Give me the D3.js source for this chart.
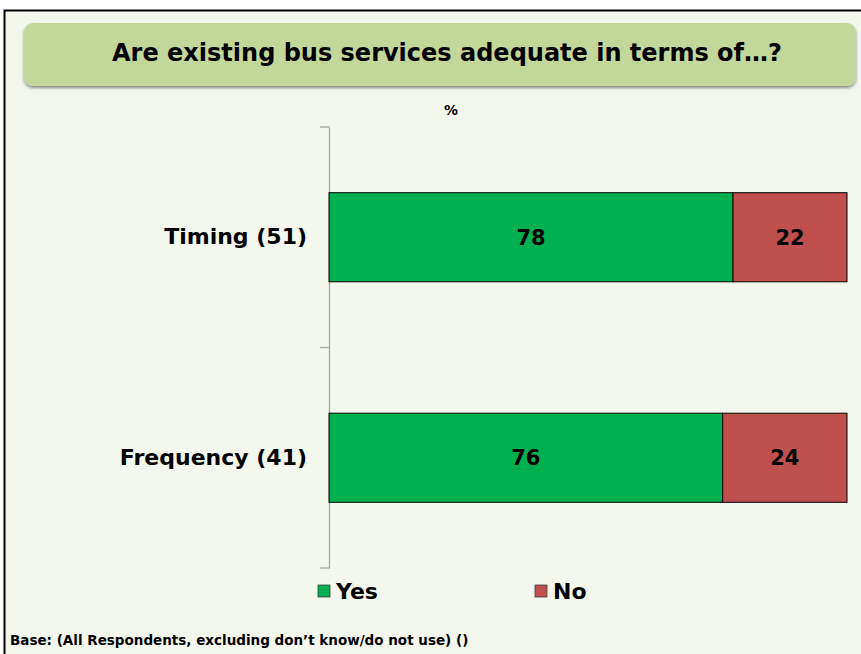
<!DOCTYPE html>
<html>
<head>
<meta charset="utf-8">
<script src="https://cdn.jsdelivr.net/npm/d3@7"></script>
<style>
  html, body { margin: 0; padding: 0; background: #fff; }
  svg { display: block; font-family: Verdana, "DejaVu Sans", sans-serif; }
</style>
</head>
<body>
<div id="chart"></div>
<script>
// chart data
var categories = ["Timing (51)", "Frequency (41)"];
var series = ["Yes", "No"];
var yesValues = [78, 76];
var noValues = [22, 24];
var colors = ["#00b050", "#c0504d"];

var W = 861, H = 654;
var svg = d3.select("#chart").append("svg")
    .attr("width", W)
    .attr("height", H);

// page background + frame
svg.append("rect")
    .attr("x", 4.5).attr("y", 10.5)
    .attr("width", W + 10).attr("height", H + 10)
    .attr("fill", "#f4f7ee")
    .attr("stroke", "#000")
    .attr("stroke-width", 2);

// title box with soft shadow
var defs = svg.append("defs");
var f = defs.append("filter").attr("id", "shadow")
    .attr("x", "-5%").attr("y", "-20%").attr("width", "110%").attr("height", "150%");
f.append("feDropShadow")
    .attr("dx", 0).attr("dy", 2).attr("stdDeviation", 1.5)
    .attr("flood-color", "#000").attr("flood-opacity", 0.45);

svg.append("rect")
    .attr("x", 24).attr("y", 23)
    .attr("width", 832).attr("height", 63)
    .attr("rx", 9)
    .attr("fill", "#c4d79b")
    .attr("filter", "url(#shadow)");

svg.append("text")
    .attr("x", 447).attr("y", 61)
    .attr("text-anchor", "middle")
    .attr("font-size", "24px")
    .attr("font-weight", "bold")
    .attr("fill", "#000")
    .text("Are existing bus services adequate in terms of\u2026?");

svg.append("text")
    .attr("x", 451).attr("y", 115)
    .attr("text-anchor", "middle")
    .attr("font-size", "14px")
    .attr("font-weight", "bold")
    .text("%");

// plot area
var plot = { left: 329, right: 847, top: 127, bottom: 568 };

var x = d3.scaleLinear().domain([0, 100]).range([plot.left, plot.right]);
var y = d3.scaleBand().domain(categories)
    .range([plot.top, plot.bottom])
    .paddingInner(0.596).paddingOuter(0.298);

// category axis
var yAxis = d3.axisLeft(y).tickSize(0).tickPadding(22).tickSizeOuter(0);
var axisG = svg.append("g")
    .attr("transform", "translate(" + plot.left + ",0)")
    .call(yAxis);
axisG.select(".domain").attr("stroke", "#a6a6a6").attr("stroke-width", 1.3);
axisG.selectAll(".tick text")
    .attr("font-size", "22px")
    .attr("font-weight", "bold")
    .attr("font-family", "Verdana, 'DejaVu Sans', sans-serif")
    .attr("fill", "#000");

// boundary tick marks between categories
var bounds = [plot.top, (plot.top + plot.bottom) / 2, plot.bottom];
svg.selectAll(".btick").data(bounds).enter().append("line")
    .attr("x1", plot.left - 9).attr("x2", plot.left)
    .attr("y1", function (d) { return d; })
    .attr("y2", function (d) { return d; })
    .attr("stroke", "#a6a6a6").attr("stroke-width", 1.3);

// stacked bars
var rows = categories.map(function (c, i) {
    return { cat: c, parts: [
        { key: "Yes", x0: 0, x1: yesValues[i], v: yesValues[i], color: colors[0] },
        { key: "No", x0: yesValues[i], x1: yesValues[i] + noValues[i], v: noValues[i], color: colors[1] }
    ] };
});

var rowG = svg.selectAll(".row").data(rows).enter().append("g")
    .attr("class", "row")
    .attr("transform", function (d) { return "translate(0," + y(d.cat) + ")"; });

rowG.selectAll("rect").data(function (d) { return d.parts; }).enter().append("rect")
    .attr("x", function (d) { return x(d.x0); })
    .attr("width", function (d) { return x(d.x1) - x(d.x0); })
    .attr("y", 0)
    .attr("height", y.bandwidth())
    .attr("fill", function (d) { return d.color; })
    .attr("stroke", "#000")
    .attr("stroke-width", 1);

rowG.selectAll("text").data(function (d) { return d.parts; }).enter().append("text")
    .attr("x", function (d) { return (x(d.x0) + x(d.x1)) / 2; })
    .attr("y", y.bandwidth() / 2)
    .attr("dy", "0.36em")
    .attr("text-anchor", "middle")
    .attr("font-size", "21px")
    .attr("font-weight", "bold")
    .text(function (d) { return d.v; });

// legend
var legendX = [318, 535];
var lg = svg.selectAll(".lg").data(series).enter().append("g")
    .attr("transform", function (d, i) { return "translate(" + legendX[i] + ",585)"; });
lg.append("rect")
    .attr("width", 12).attr("height", 12)
    .attr("fill", function (d, i) { return colors[i]; })
    .attr("stroke", "#404040").attr("stroke-width", 0.8);
lg.append("text")
    .attr("x", 18).attr("y", 14)
    .attr("font-size", "22px")
    .attr("font-weight", "bold")
    .text(function (d) { return d; });

// footnote
svg.append("text")
    .attr("x", 10).attr("y", 645)
    .attr("font-size", "13.5px")
    .attr("font-weight", "bold")
    .text("Base: (All Respondents, excluding don\u2019t know/do not use) ()");
</script>
</body>
</html>
